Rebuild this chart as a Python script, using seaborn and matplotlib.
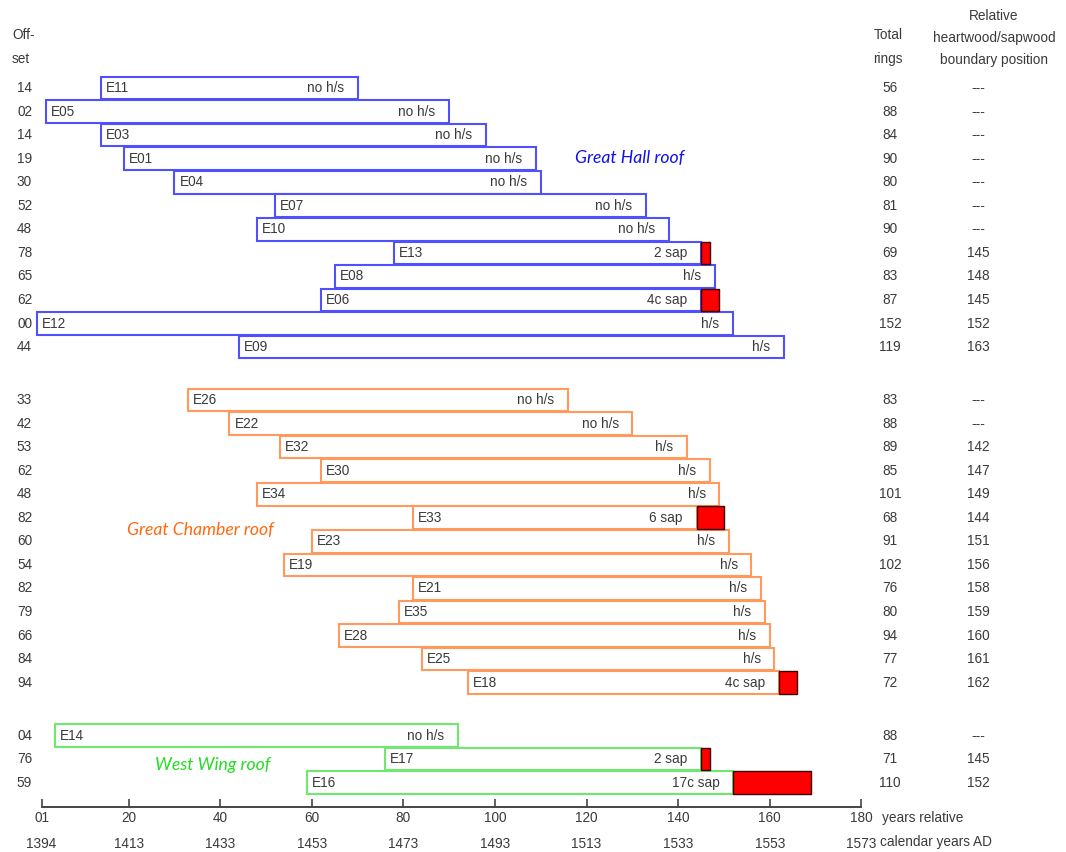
import numpy as np
import pandas as pd
import matplotlib
matplotlib.use("Agg")
import matplotlib.pyplot as plt
import matplotlib.transforms as mtransforms
import seaborn as sns

# ---------------- data ----------------
hall_ids = ["E11", "E05", "E03", "E01", "E04", "E07", "E10", "E13", "E08", "E06", "E12", "E09"]
hall_offset = [14, 2, 14, 19, 30, 52, 48, 78, 65, 62, 0, 44]
hall_rings = [56, 88, 84, 90, 80, 81, 90, 69, 83, 87, 152, 119]
hall_hs = [None, None, None, None, None, None, None, 145, 148, 145, 152, 163]
hall_note = ["no h/s", "no h/s", "no h/s", "no h/s", "no h/s", "no h/s", "no h/s",
             "2 sap", "h/s", "4c sap", "h/s", "h/s"]

chamber_ids = ["E26", "E22", "E32", "E30", "E34", "E33", "E23", "E19", "E21", "E35", "E28", "E25", "E18"]
chamber_offset = [33, 42, 53, 62, 48, 82, 60, 54, 82, 79, 66, 84, 94]
chamber_rings = [83, 88, 89, 85, 101, 68, 91, 102, 76, 80, 94, 77, 72]
chamber_hs = [None, None, 142, 147, 149, 144, 151, 156, 158, 159, 160, 161, 162]
chamber_note = ["no h/s", "no h/s", "h/s", "h/s", "h/s", "6 sap", "h/s", "h/s",
                "h/s", "h/s", "h/s", "h/s", "4c sap"]

west_ids = ["E14", "E17", "E16"]
west_offset = [4, 76, 59]
west_rings = [88, 71, 110]
west_hs = [None, 145, 152]
west_note = ["no h/s", "2 sap", "17c sap"]

group_names = ["Great Hall roof", "Great Chamber roof", "West Wing roof"]

tick_rel = [1, 20, 40, 60, 80, 100, 120, 140, 160, 180]
tick_rel_labels = ["01", "20", "40", "60", "80", "100", "120", "140", "160", "180"]
tick_cal_labels = ["1394", "1413", "1433", "1453", "1473", "1493", "1513", "1533", "1553", "1573"]

# ---------------- style ----------------
sns.set_theme(style="white")
plt.rcParams["font.family"] = ["Liberation Sans", "DejaVu Sans"]

FS = 9.8
TXT = "#3a3a3a"
group_colors = ["#5050ff", "#ff9a5c", "#70e870"]
label_colors = ["#1010ee", "#ff6a10", "#22dd22"]

groups = [
    (hall_ids, hall_offset, hall_rings, hall_hs, hall_note),
    (chamber_ids, chamber_offset, chamber_rings, chamber_hs, chamber_note),
    (west_ids, west_offset, west_rings, west_hs, west_note),
]

rows = []
ystart = 0.0
gap = 2.25
for g, (ids, off, rings, hs, note) in enumerate(groups):
    for i in range(len(ids)):
        rows.append(dict(group=g, id=ids[i], offset=off[i], rings=rings[i],
                         hs=hs[i], note=note[i], y=ystart + i))
    ystart = ystart + len(ids) - 1 + gap
df = pd.DataFrame(rows)
df["end"] = df["offset"] + df["rings"]

W, H = 1066, 852
fig = plt.figure(figsize=(W / 100, H / 100), dpi=100)
ax = fig.add_axes([0, 0, 1, 1])
px_per = 4.58
x0px = 37
ax.set_xlim(-x0px / px_per, (W - x0px) / px_per)
row_px = 23.55
top_px = 88
ax.set_ylim((H - top_px) / row_px, -top_px / row_px)
ax.set_facecolor("white")

bh = 0.96
for _, r in df.iterrows():
    col = group_colors[r.group]
    has_sap = r.hs is not None and not pd.isna(r.hs) and r.hs < r.end
    white_end = r.hs if has_sap else r.end
    ax.barh(r.y, white_end - r.offset, left=r.offset, height=bh,
            facecolor="white", edgecolor=col, linewidth=1.5, zorder=2)
    if has_sap:
        ax.barh(r.y, r.end - r.hs, left=r.hs, height=bh,
                facecolor="#ff0000", edgecolor="#3a0000", linewidth=1.0, zorder=3)
    ax.text(r.offset + 1.1, r.y, r.id, ha="left", va="center", fontsize=FS, color=TXT, zorder=4)
    ax.text(white_end - 3.0, r.y, r.note, ha="right", va="center", fontsize=FS, color=TXT, zorder=4)

# side columns
tr = mtransforms.blended_transform_factory(ax.transAxes, ax.transData)
for _, r in df.iterrows():
    ax.text(24.5 / W, r.y, f"{r.offset:02d}", ha="center", va="center", fontsize=FS, color=TXT, transform=tr)
    ax.text(890 / W, r.y, f"{r.rings}", ha="center", va="center", fontsize=FS, color=TXT, transform=tr)
    hs_txt = "---" if (r.hs is None or pd.isna(r.hs)) else f"{int(r.hs)}"
    ax.text(978 / W, r.y, hs_txt, ha="center", va="center", fontsize=FS, color=TXT, transform=tr)

# headers
fig.text(12 / W, 1 - 47 / H, "Off-\nset", ha="left", va="center", fontsize=FS, color=TXT, linespacing=1.85)
fig.text(888 / W, 1 - 47 / H, "Total\nrings", ha="center", va="center", fontsize=FS, color=TXT, linespacing=1.85)
fig.text(994 / W, 1 - 38 / H, "Relative\nheartwood/sapwood\nboundary position", ha="center", va="center",
         fontsize=FS, color=TXT, linespacing=1.75)

# group labels
gl = [(575, 158), (127, 530), (155, 765)]
for g, name in enumerate(group_names):
    fig.text(gl[g][0] / W, 1 - gl[g][1] / H, name, ha="left", va="center", fontsize=12.7,
             style="italic", color=label_colors[g], family=["Lato", "DejaVu Sans"])

# x axis
axis_y = (807 - top_px) / row_px
for s in ["top", "left", "right"]:
    ax.spines[s].set_visible(False)
ax.spines["bottom"].set_position(("data", axis_y))
ax.spines["bottom"].set_bounds(1, 180)
ax.spines["bottom"].set_color("#444444")
ax.spines["bottom"].set_linewidth(1.4)
ax.set_yticks([])
ax.set_xticks(tick_rel)
ax.set_xticklabels([f"{a}\n{b}" for a, b in zip(tick_rel_labels, tick_cal_labels)],
                   fontsize=FS, color=TXT, linespacing=2.05)
ax.tick_params(axis="x", direction="in", length=6, width=1.2, color="#444444", pad=3, bottom=True)
ax.grid(False)

fig.text(882 / W, 1 - 818 / H, "years relative", ha="left", va="center", fontsize=FS, color=TXT)
fig.text(880 / W, 1 - 842 / H, "calendar years AD", ha="left", va="center", fontsize=FS, color=TXT)

fig.savefig("out.png", dpi=100, facecolor="white")
